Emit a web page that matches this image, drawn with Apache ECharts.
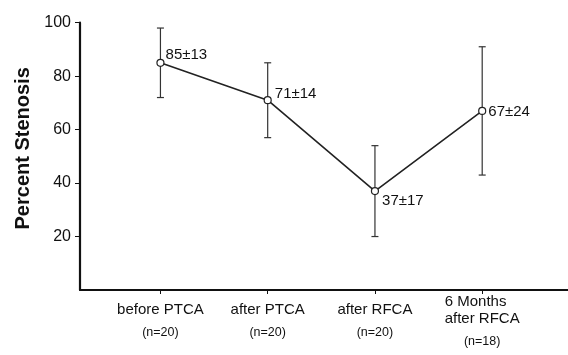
<!DOCTYPE html>
<html>
<head>
<meta charset="utf-8">
<script src="https://cdn.jsdelivr.net/npm/echarts@6/dist/echarts.min.js"></script>
<style>html,body{margin:0;padding:0;background:#fff}#c{width:568px;height:355px}</style>
</head>
<body>
<div id="c"></div>
<script>
// ---- data ----
const categories = ['before PTCA', 'after PTCA', 'after RFCA', '6 Months\nafter RFCA'];
const nCounts = [20, 20, 20, 18];
const means = [85, 71, 37, 67];
const sds = [13, 14, 17, 24];
const yTicks = [20, 40, 60, 80, 100];
const xPositions = [1, 2, 3, 4];

// ---- presentation ----
const FONT = "'Liberation Sans', Arial, sans-serif";
const INK = '#111111';
const labelOffsets = [[-2, -8], [0, -6], [0, 10], [-1, 1]];

const lineData = means.map((m, i) => ({
  value: [xPositions[i], m],
  label: { offset: labelOffsets[i] }
}));
const errData = means.map((m, i) => [xPositions[i], m - sds[i], m + sds[i]]);

const chart = echarts.init(document.getElementById('c'), null, { renderer: 'canvas' });
chart.setOption({
  backgroundColor: '#ffffff',
  animation: false,
  grid: { left: 80, right: 0, top: 22.7, bottom: 65 },
  xAxis: {
    type: 'value', min: 0.25, max: 4.8,
    splitLine: { show: false },
    axisLine: { show: true, lineStyle: { color: INK, width: 2.2 } },
    axisTick: { show: true, customValues: xPositions, length: 4, lineStyle: { color: INK, width: 1 } },
    axisLabel: {
      show: true, customValues: xPositions, margin: 3,
      fontFamily: FONT,
      formatter: function (v) {
        const i = Math.round(v) - 1;
        const lines = categories[i].split('\n');
        if (lines.length === 1) {
          return '{a|' + lines[0] + '}\n{b|(n=' + nCounts[i] + ')}';
        }
        return lines.map(l => '{m|' + l + '}').join('\n') + '\n{c|(n=' + nCounts[i] + ')}';
      },
      rich: {
        a: { fontFamily: FONT, fontSize: 15, color: INK, lineHeight: 33 },
        b: { fontFamily: FONT, fontSize: 12.5, color: INK, lineHeight: 14 },
        m: { fontFamily: FONT, fontSize: 15, color: INK, lineHeight: 17.5, align: 'left' },
        c: { fontFamily: FONT, fontSize: 12.5, color: INK, lineHeight: 27, align: 'center' }
      }
    }
  },
  yAxis: {
    type: 'value', min: 0, max: 100,
    splitLine: { show: false },
    axisLine: { show: true, lineStyle: { color: INK, width: 2.2 } },
    axisTick: { show: true, customValues: yTicks, length: 5, lineStyle: { color: INK, width: 1 } },
    axisLabel: { show: true, customValues: yTicks, margin: 9, fontFamily: FONT, fontSize: 16, color: INK },
    name: 'Percent Stenosis',
    nameLocation: 'middle',
    nameGap: 42,
    nameRotate: 90,
    nameTextStyle: { fontFamily: FONT, fontSize: 20, fontWeight: 'bold', color: INK, padding: [0, 0, 0, 16] }
  },
  series: [
    {
      type: 'custom',
      data: errData,
      z: 1,
      renderItem: function (params, api) {
        const x = api.value(0);
        const lo = api.coord([x, api.value(1)]);
        const hi = api.coord([x, api.value(2)]);
        const w = 3.5;
        const st = { stroke: '#333', lineWidth: 1.2 };
        return {
          type: 'group',
          children: [
            { type: 'line', shape: { x1: lo[0], y1: lo[1], x2: hi[0], y2: hi[1] }, style: st },
            { type: 'line', shape: { x1: lo[0] - w, y1: lo[1], x2: lo[0] + w, y2: lo[1] }, style: st },
            { type: 'line', shape: { x1: hi[0] - w, y1: hi[1], x2: hi[0] + w, y2: hi[1] }, style: st }
          ]
        };
      }
    },
    {
      type: 'line',
      data: lineData,
      z: 3,
      symbol: 'circle',
      symbolSize: 7,
      lineStyle: { color: '#222', width: 1.6 },
      itemStyle: { color: '#fff', borderColor: '#222', borderWidth: 1.2 },
      label: {
        show: true, position: 'right', distance: 3,
        fontFamily: FONT, fontSize: 15, color: INK,
        formatter: function (p) { return means[p.dataIndex] + '±' + sds[p.dataIndex]; }
      }
    }
  ]
});
</script>
</body>
</html>
